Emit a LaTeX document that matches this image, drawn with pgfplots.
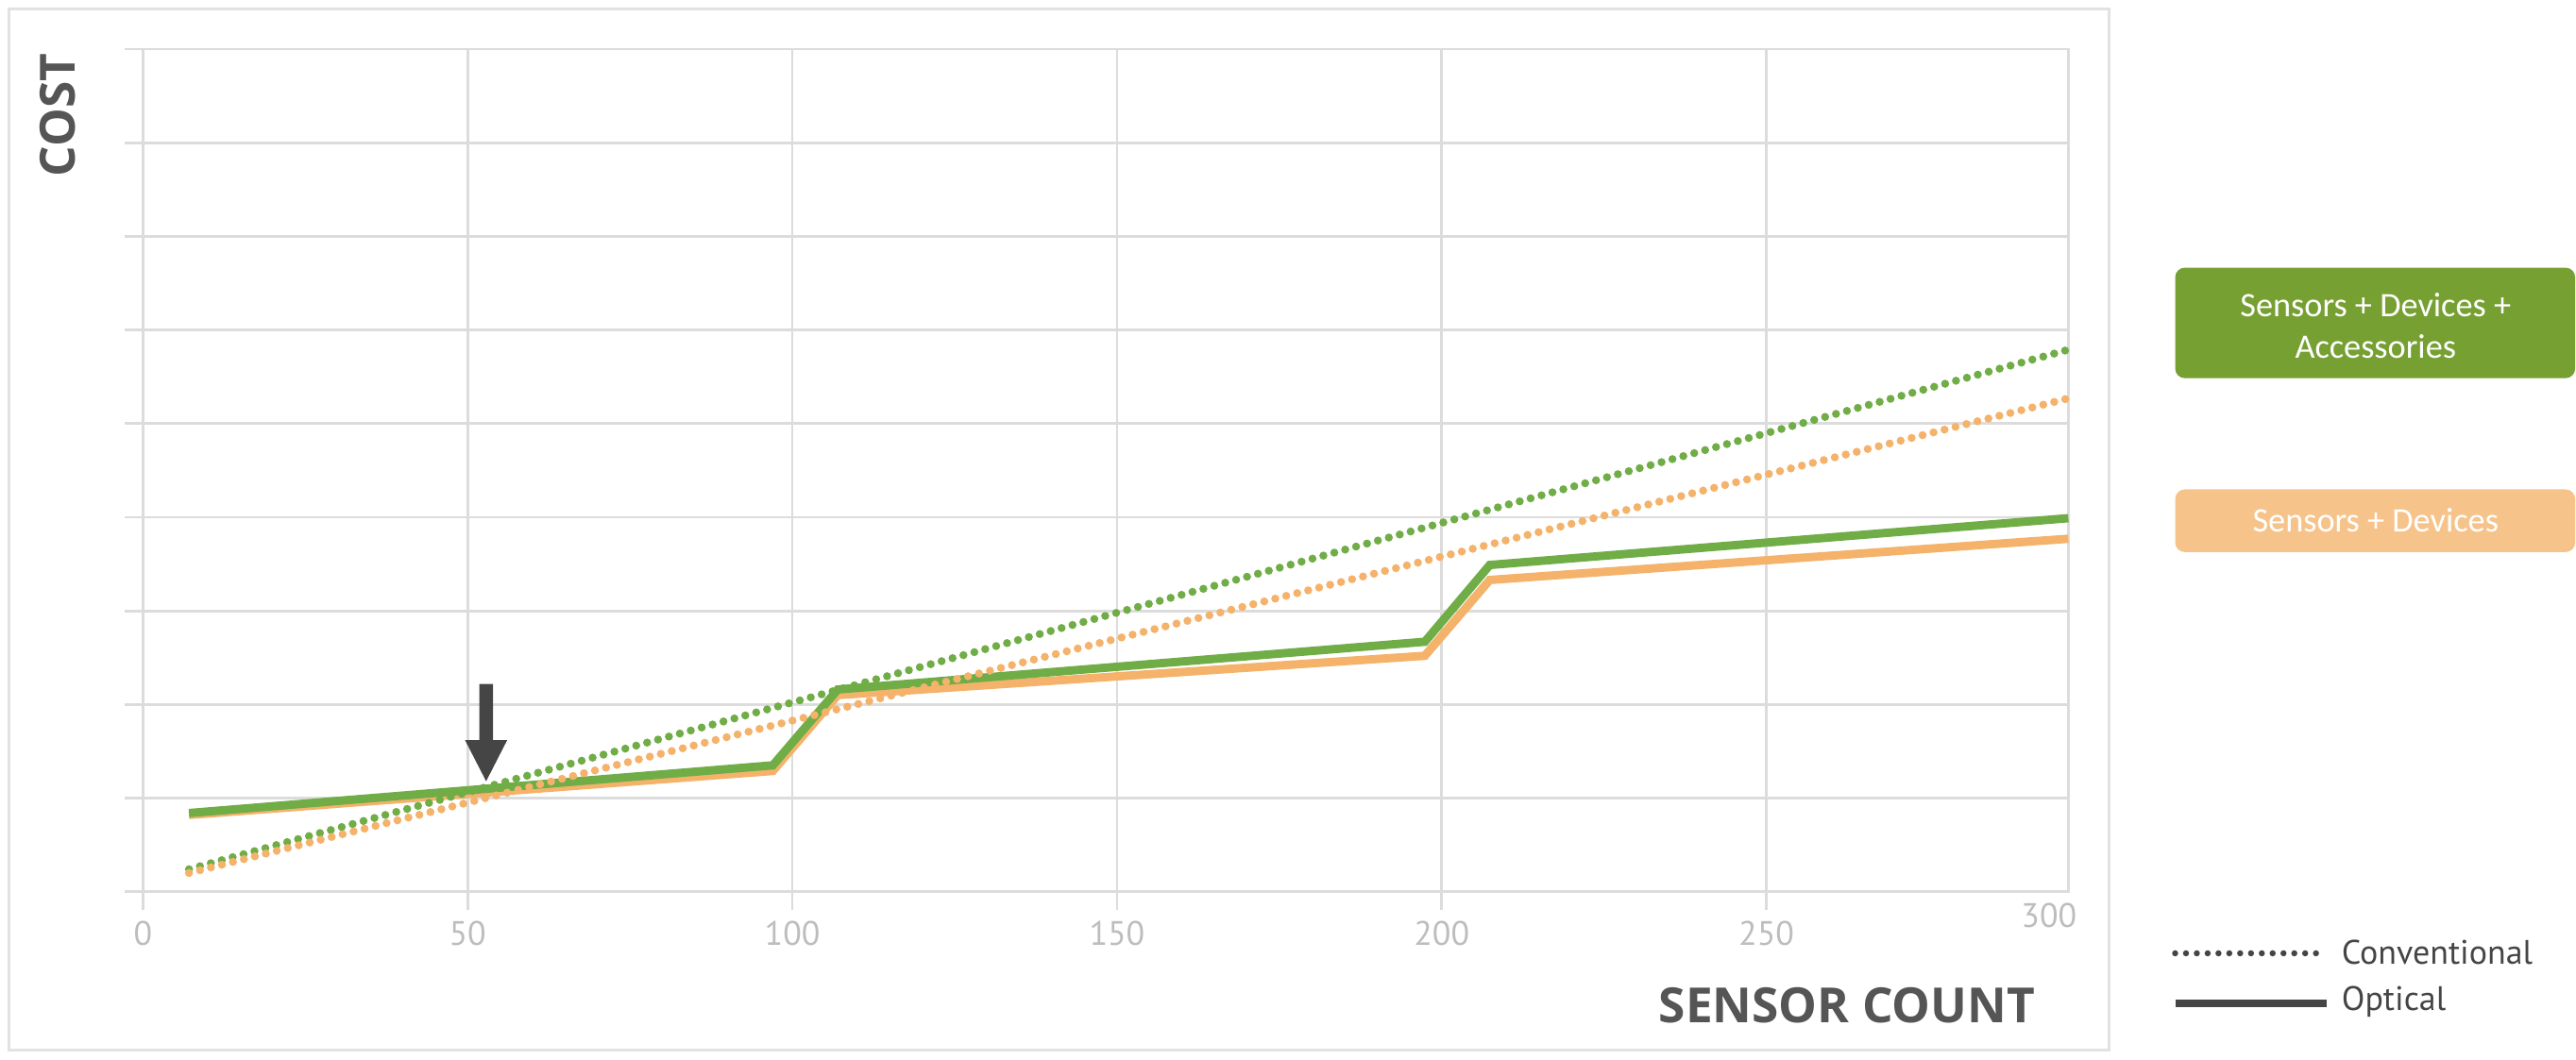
\documentclass[border=0pt]{standalone}
\usepackage{fontspec}
\setmainfont{Open Sans}
\newfontfamily\ptsans{PT Sans}
\newfontfamily\carlito{Carlito}
\usepackage{pgfplots}
\pgfplotsset{compat=1.18}

\definecolor{lgreen}{HTML}{70AD47}
\definecolor{lorange}{HTML}{F4B26B}
\definecolor{boxgreen}{HTML}{77A033}
\definecolor{boxorange}{HTML}{F6C48B}
\definecolor{gridgray}{HTML}{DCDCDC}
\definecolor{tickgray}{HTML}{BDBDBD}
\definecolor{labelgray}{HTML}{555555}
\definecolor{leggray}{HTML}{454545}
\definecolor{panelgray}{HTML}{E2E2E2}

\begin{document}
% picture units: 1 unit = one pixel of the 1568x645 view, y pointing down
\begin{tikzpicture}[x=0.5081pt, y=-0.5081pt]
\useasboundingbox (0,0) rectangle (1568,645);
\draw[panelgray, line width=0.9pt] (5.4,5.4) rectangle (1284,639.5);

\begin{axis}[
    at={(44.20pt,-275.9pt)}, anchor=south west,
    scale only axis,
    width=595.5pt, height=260.7pt,
    xmin=0, xmax=296.5,
    ymin=0, ymax=9,
    xtick={0,50,...,250},
    ytick={0,1,...,9},
    yticklabels={},
    extra x ticks={296.5},
    extra x tick labels={300},
    extra x tick style={grid=none, major tick length=0pt,
        xticklabel style={xshift=-6pt}},
    grid=major,
    grid style={gridgray, line width=0.8pt},
    axis line style={gridgray, line width=0.8pt},
    tick style={gridgray, line width=0.8pt},
    tick align=outside,
    major tick length=0.2cm,
    tick pos=left,
    /pgf/number format/assume math mode=true,
    ticklabel style={font=\ptsans\fontsize{10.5}{12}\selectfont, text=tickgray},
    clip=false,
]

% optical (solid)
\addplot[lorange, line width=2.6pt] coordinates {
    (7.1,0.82) (97,1.29) (107,2.10) (197.4,2.52) (207.4,3.33) (296.5,3.77)};
\addplot[lgreen, line width=2.6pt] coordinates {
    (7.1,0.84) (97,1.35) (107,2.16) (197.4,2.67) (207.4,3.49) (296.5,3.99)};

% conventional (dotted)
\addplot[lgreen, line width=2.5pt, line cap=round, dash pattern=on 0pt off 3.5pt]
    coordinates {(7.1,0.24) (296.5,5.79)};
\addplot[lorange, line width=2.5pt, line cap=round, dash pattern=on 0pt off 3.5pt]
    coordinates {(7.1,0.20) (296.5,5.27)};

% break-even arrow
\fill[leggray] (axis cs:51.8,2.22) -- (axis cs:53.9,2.22) -- (axis cs:53.9,1.62)
    -- (axis cs:56.1,1.62) -- (axis cs:52.85,1.18) -- (axis cs:49.6,1.62)
    -- (axis cs:51.8,1.62) -- cycle;
\end{axis}

% axis titles
\node[rotate=90, inner sep=0, text=labelgray, font=\bfseries\fontsize{15}{18}\selectfont]
    at (35,70) {COST};
\node[anchor=east, inner sep=0, text=labelgray, font=\bfseries\fontsize{15}{18}\selectfont]
    at (1239,612) {SENSOR COUNT};

% colour key
\fill[boxgreen, rounded corners=3pt] (1324,163) rectangle (1567.5,230.3);
\node[text=white, align=center, font=\carlito\fontsize{10.6}{13}\selectfont]
    at (1446,198.3) {Sensors + Devices +\\Accessories};
\fill[boxorange, rounded corners=3pt] (1324,298) rectangle (1567.5,336.2);
\node[text=white, font=\carlito\fontsize{10.6}{13}\selectfont]
    at (1446,317) {Sensors + Devices};

% line style key
\draw[leggray, line width=1.9pt, line cap=round, dash pattern=on 0pt off 3.35pt]
    (1324,580.5) -- (1416,580.5);
\draw[leggray, line width=2.1pt] (1324,611) -- (1416,611);
\node[anchor=west, inner sep=0, text=leggray, font=\ptsans\fontsize{10.5}{12}\selectfont]
    at (1425,580) {Conventional};
\node[anchor=west, inner sep=0, text=leggray, font=\ptsans\fontsize{10.5}{12}\selectfont]
    at (1425,610) {Optical};
\end{tikzpicture}
\end{document}
